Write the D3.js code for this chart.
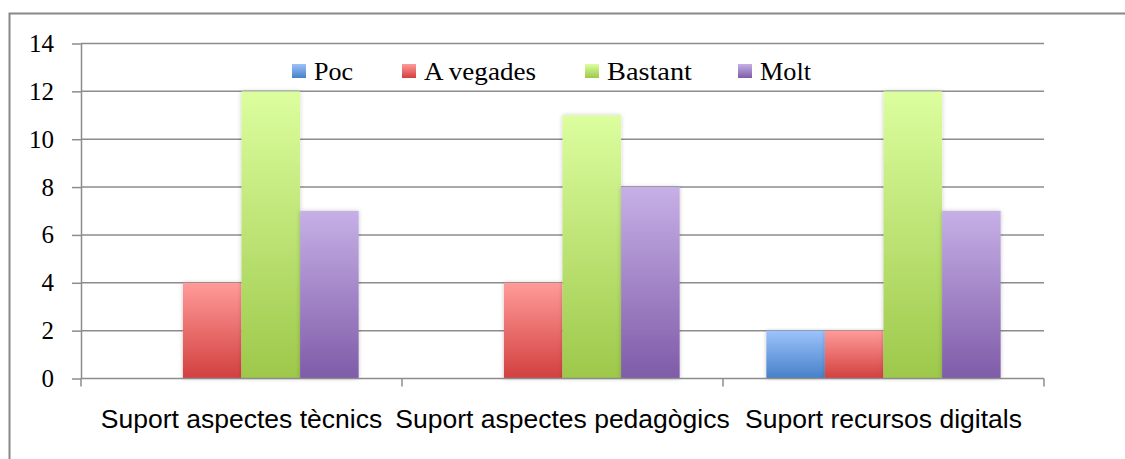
<!DOCTYPE html>
<html>
<head>
<meta charset="utf-8">
<script src="https://cdn.jsdelivr.net/npm/d3@7"></script>
<style>
  body { margin: 0; background: #fff; }
  svg { display: block; }
</style>
</head>
<body>
<svg id="chart" width="1125" height="459"></svg>
<script>
// Categories, series and tick labels
const categories = ["Suport aspectes tècnics", "Suport aspectes pedagògics", "Suport recursos digitals"];
const seriesNames = ["Poc", "A vegades", "Bastant", "Molt"];
const poc = [0, 0, 2];
const aVegades = [4, 4, 2];
const bastant = [12, 11, 12];
const molt = [7, 8, 7];
const yTicks = [0, 2, 4, 6, 8, 10, 12, 14];

// Gradient stops (top, bottom) per series
const gradTop = ["#9cc3fb", "#ff9b99", "#dcfe9f", "#c6b0e6"];
const gradBottom = ["#4680c9", "#d2403f", "#9dc84a", "#7f5ba8"];

const seriesValues = [poc, aVegades, bastant, molt];

const svg = d3.select("#chart");
const margin = { left: 81, top: 43.5 };
const plotW = 1044 - margin.left;
const plotH = 378.5 - margin.top;

// Outer frame (left and top edges visible)
svg.append("path")
  .attr("d", "M9.5,459 L9.5,13.5 L1125,13.5")
  .attr("fill", "none").attr("stroke", "#888").attr("stroke-width", 2);

const defs = svg.append("defs");
seriesNames.forEach((s, i) => {
  const gr = defs.append("linearGradient").attr("id", "grad" + i)
    .attr("x1", 0).attr("y1", 0).attr("x2", 0).attr("y2", 1);
  gr.append("stop").attr("offset", "0%").attr("stop-color", gradTop[i]);
  gr.append("stop").attr("offset", "100%").attr("stop-color", gradBottom[i]);
});
const shadow = defs.append("filter").attr("id", "shadow")
  .attr("x", "-20%").attr("y", "-5%").attr("width", "140%").attr("height", "110%");
shadow.append("feDropShadow").attr("dx", 0).attr("dy", 0).attr("stdDeviation", 2)
  .attr("flood-color", "#000").attr("flood-opacity", 0.22);

const g = svg.append("g").attr("transform", `translate(${margin.left},${margin.top})`);

const x0 = d3.scaleBand().domain(categories).range([0, plotW]).paddingInner(0).paddingOuter(0);
const x1 = d3.scaleBand().domain(seriesNames).range([0, x0.bandwidth()]).paddingInner(0).paddingOuter(0.74);
const y = d3.scaleLinear().domain([0, 14]).range([plotH, 0]);

// Gridlines
g.append("g").selectAll("line").data(yTicks.filter(t => t > 0)).join("line")
  .attr("x1", 0).attr("x2", plotW)
  .attr("y1", d => y(d)).attr("y2", d => y(d))
  .attr("stroke", "#8c8c8c").attr("stroke-width", 1.5);

// Bars
const groups = g.append("g").selectAll("g").data(categories).join("g")
  .attr("transform", d => `translate(${x0(d)},0)`);
groups.selectAll("rect")
  .data((c, ci) => seriesNames.map((s, si) => ({ s, si, v: seriesValues[si][ci] })))
  .join("rect")
  .filter(d => d.v > 0)
  .attr("x", d => x1(d.s))
  .attr("width", x1.bandwidth())
  .attr("y", d => y(d.v))
  .attr("height", d => y(0) - y(d.v))
  .attr("fill", d => `url(#grad${d.si})`)
  .attr("filter", "url(#shadow)");

// Y axis
const yAxis = g.append("g")
  .call(d3.axisLeft(y).tickValues(yTicks).tickSize(9).tickSizeOuter(0).tickPadding(18));
yAxis.select(".domain").attr("stroke", "#8c8c8c").attr("stroke-width", 1.5);
yAxis.selectAll(".tick line").attr("stroke", "#8c8c8c").attr("stroke-width", 1.5);
yAxis.selectAll("text")
  .attr("font-family", "'Liberation Serif', 'DejaVu Serif', serif")
  .attr("font-size", 25).attr("fill", "#000");

// X axis with ticks at category boundaries
const xAxis = g.append("g").attr("transform", `translate(0,${plotH})`);
xAxis.append("line").attr("x1", 0).attr("x2", plotW)
  .attr("stroke", "#8c8c8c").attr("stroke-width", 1.5);
const boundaries = categories.map(c => x0(c)).concat([plotW]);
xAxis.selectAll("line.tk").data(boundaries).join("line").attr("class", "tk")
  .attr("x1", d => d).attr("x2", d => d).attr("y1", 0).attr("y2", 8)
  .attr("stroke", "#8c8c8c").attr("stroke-width", 1.5);
xAxis.selectAll("text").data(categories).join("text")
  .attr("x", d => x0(d) + x0.bandwidth() / 2)
  .attr("y", 49.5)
  .attr("text-anchor", "middle")
  .attr("font-family", "'Liberation Sans', Arial, sans-serif")
  .attr("font-size", 26.5).attr("fill", "#000")
  .text(d => d);

// Legend
const legendX = [292, 402, 585, 738];
const legendW = [39, 112, 85, 51];
const legend = svg.append("g").attr("transform", "translate(0,71)");
seriesNames.forEach((s, i) => {
  legend.append("rect").attr("x", legendX[i]).attr("y", -7).attr("width", 14).attr("height", 14)
    .attr("fill", `url(#grad${i})`);
  legend.append("text").attr("x", legendX[i] + 22).attr("y", 8.5)
    .attr("font-family", "'Liberation Serif', 'DejaVu Serif', serif")
    .attr("font-size", 26).attr("fill", "#000")
    .attr("textLength", legendW[i]).attr("lengthAdjust", "spacingAndGlyphs")
    .text(s);
});
</script>
</body>
</html>
